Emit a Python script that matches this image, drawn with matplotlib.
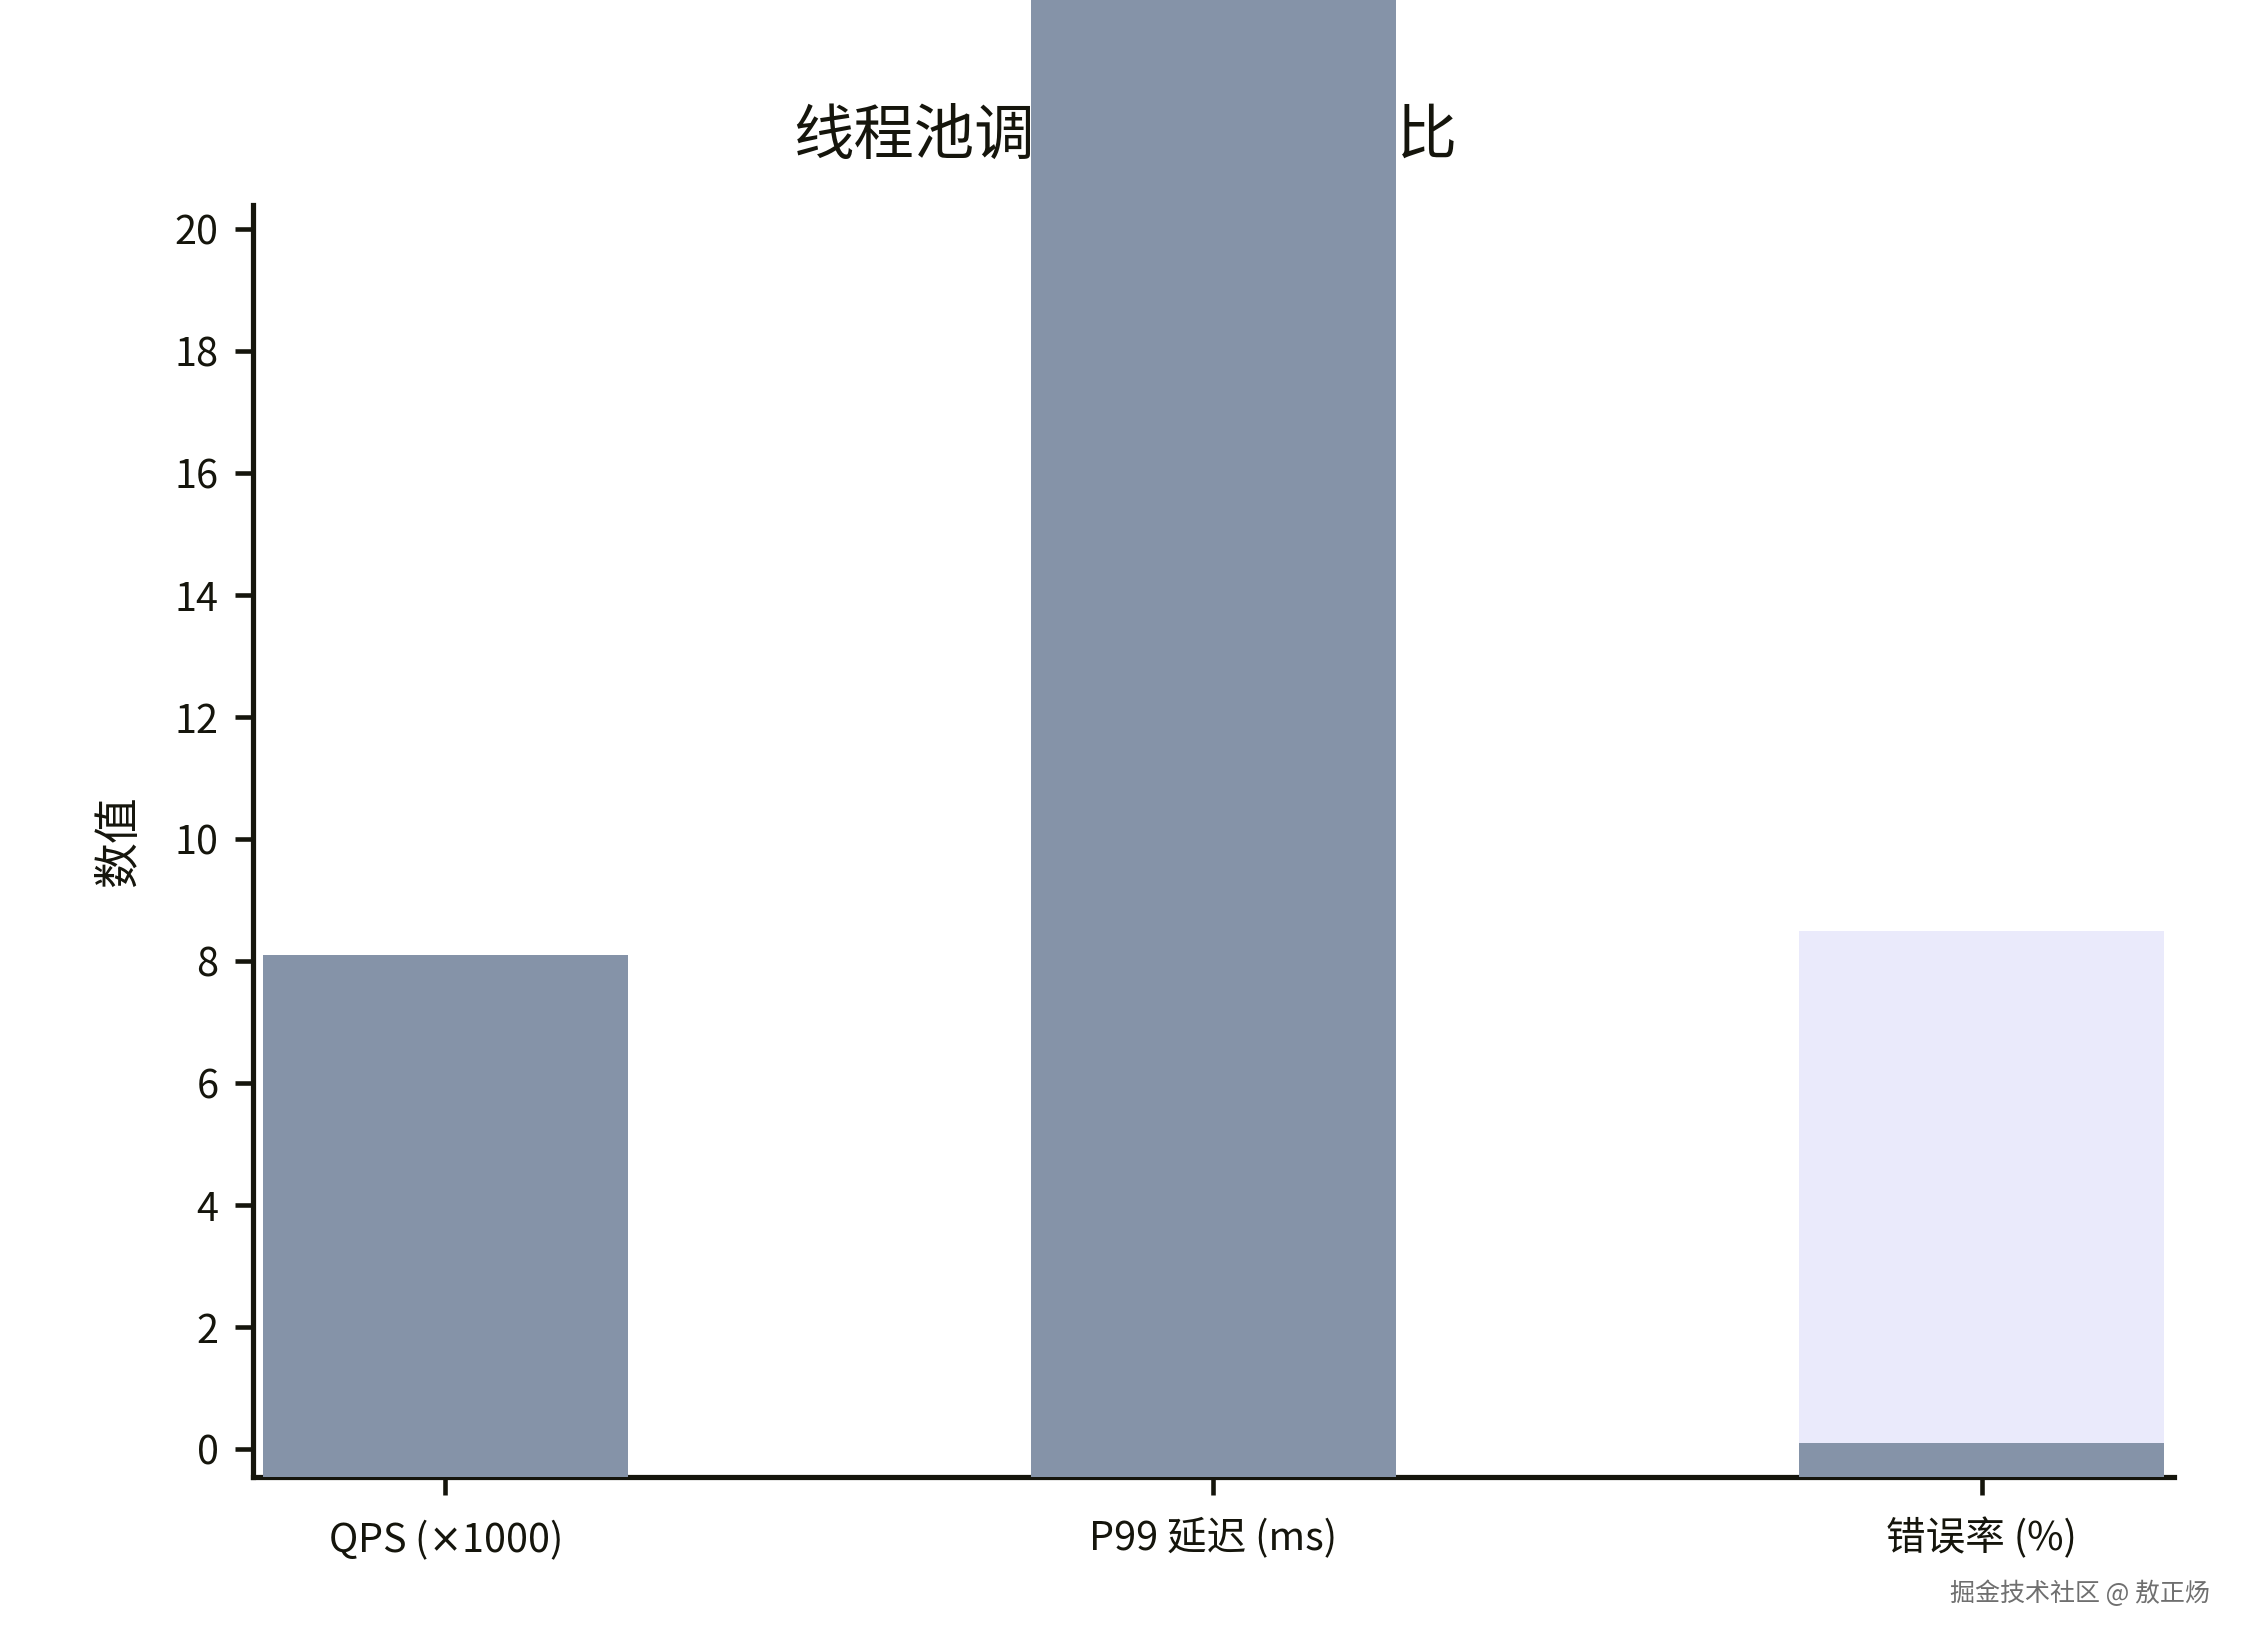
import matplotlib
matplotlib.use("Agg")
import matplotlib.pyplot as plt

plt.rcParams['font.family'] = ['Noto Sans CJK SC', 'DejaVu Sans']

# data
categories = ["QPS ($\\times$1000)", "P99 延迟 (ms)", "错误率 (%)"]
before_vals = [0.0, 0.0, 8.5]      # light series, only visible for error rate
after_vals = [8.1, 45.0, 0.1]      # middle bar runs off the top of the figure
y_ticks = [0, 2, 4, 6, 8, 10, 12, 14, 16, 18, 20]

title = "线程池调优前后性能对比"
ylabel = "数值"
watermark = "掘金技术社区 @ 敖正炀"

ink = "#15150c"
ymin, ymax = -0.46, 20.4

fig = plt.figure(figsize=(15, 11), dpi=150)
ax = fig.add_axes([0.1124, 0.1048, 0.8538, 0.771])
ax.set_zorder(1)
ax.patch.set_alpha(0)

x = list(range(len(categories)))
bw = 0.475
ax.bar(x, [v - ymin for v in before_vals], bw, bottom=ymin,
       color="#eaeafb", clip_on=False, zorder=2)
ax.bar(x, [v - ymin for v in after_vals], bw, bottom=ymin,
       color="#8593a8", clip_on=False, zorder=3)

ax.set_xlim(-0.25, 2.25)
ax.set_ylim(ymin, ymax)
ax.set_xticks(x)
ax.set_xticklabels(categories)
ax.set_yticks(y_ticks)

for s in ["top", "right"]:
    ax.spines[s].set_visible(False)
for s in ["left", "bottom"]:
    ax.spines[s].set_linewidth(2.5)
    ax.spines[s].set_color(ink)

ax.tick_params(axis="both", length=8.5, width=2.2, color=ink,
               labelsize=19, labelcolor=ink, pad=8)
ax.tick_params(axis="x", pad=11)
ax.set_ylabel(ylabel, fontsize=22, color=ink, labelpad=15)

fig.suptitle(title, x=0.5, y=0.917, va="center", fontsize=29, color=ink, zorder=0)
fig.text(0.982, 0.034, watermark, ha="right", va="center", fontsize=12, color="#6f6f6f")

fig.savefig("out.png", dpi=150)
